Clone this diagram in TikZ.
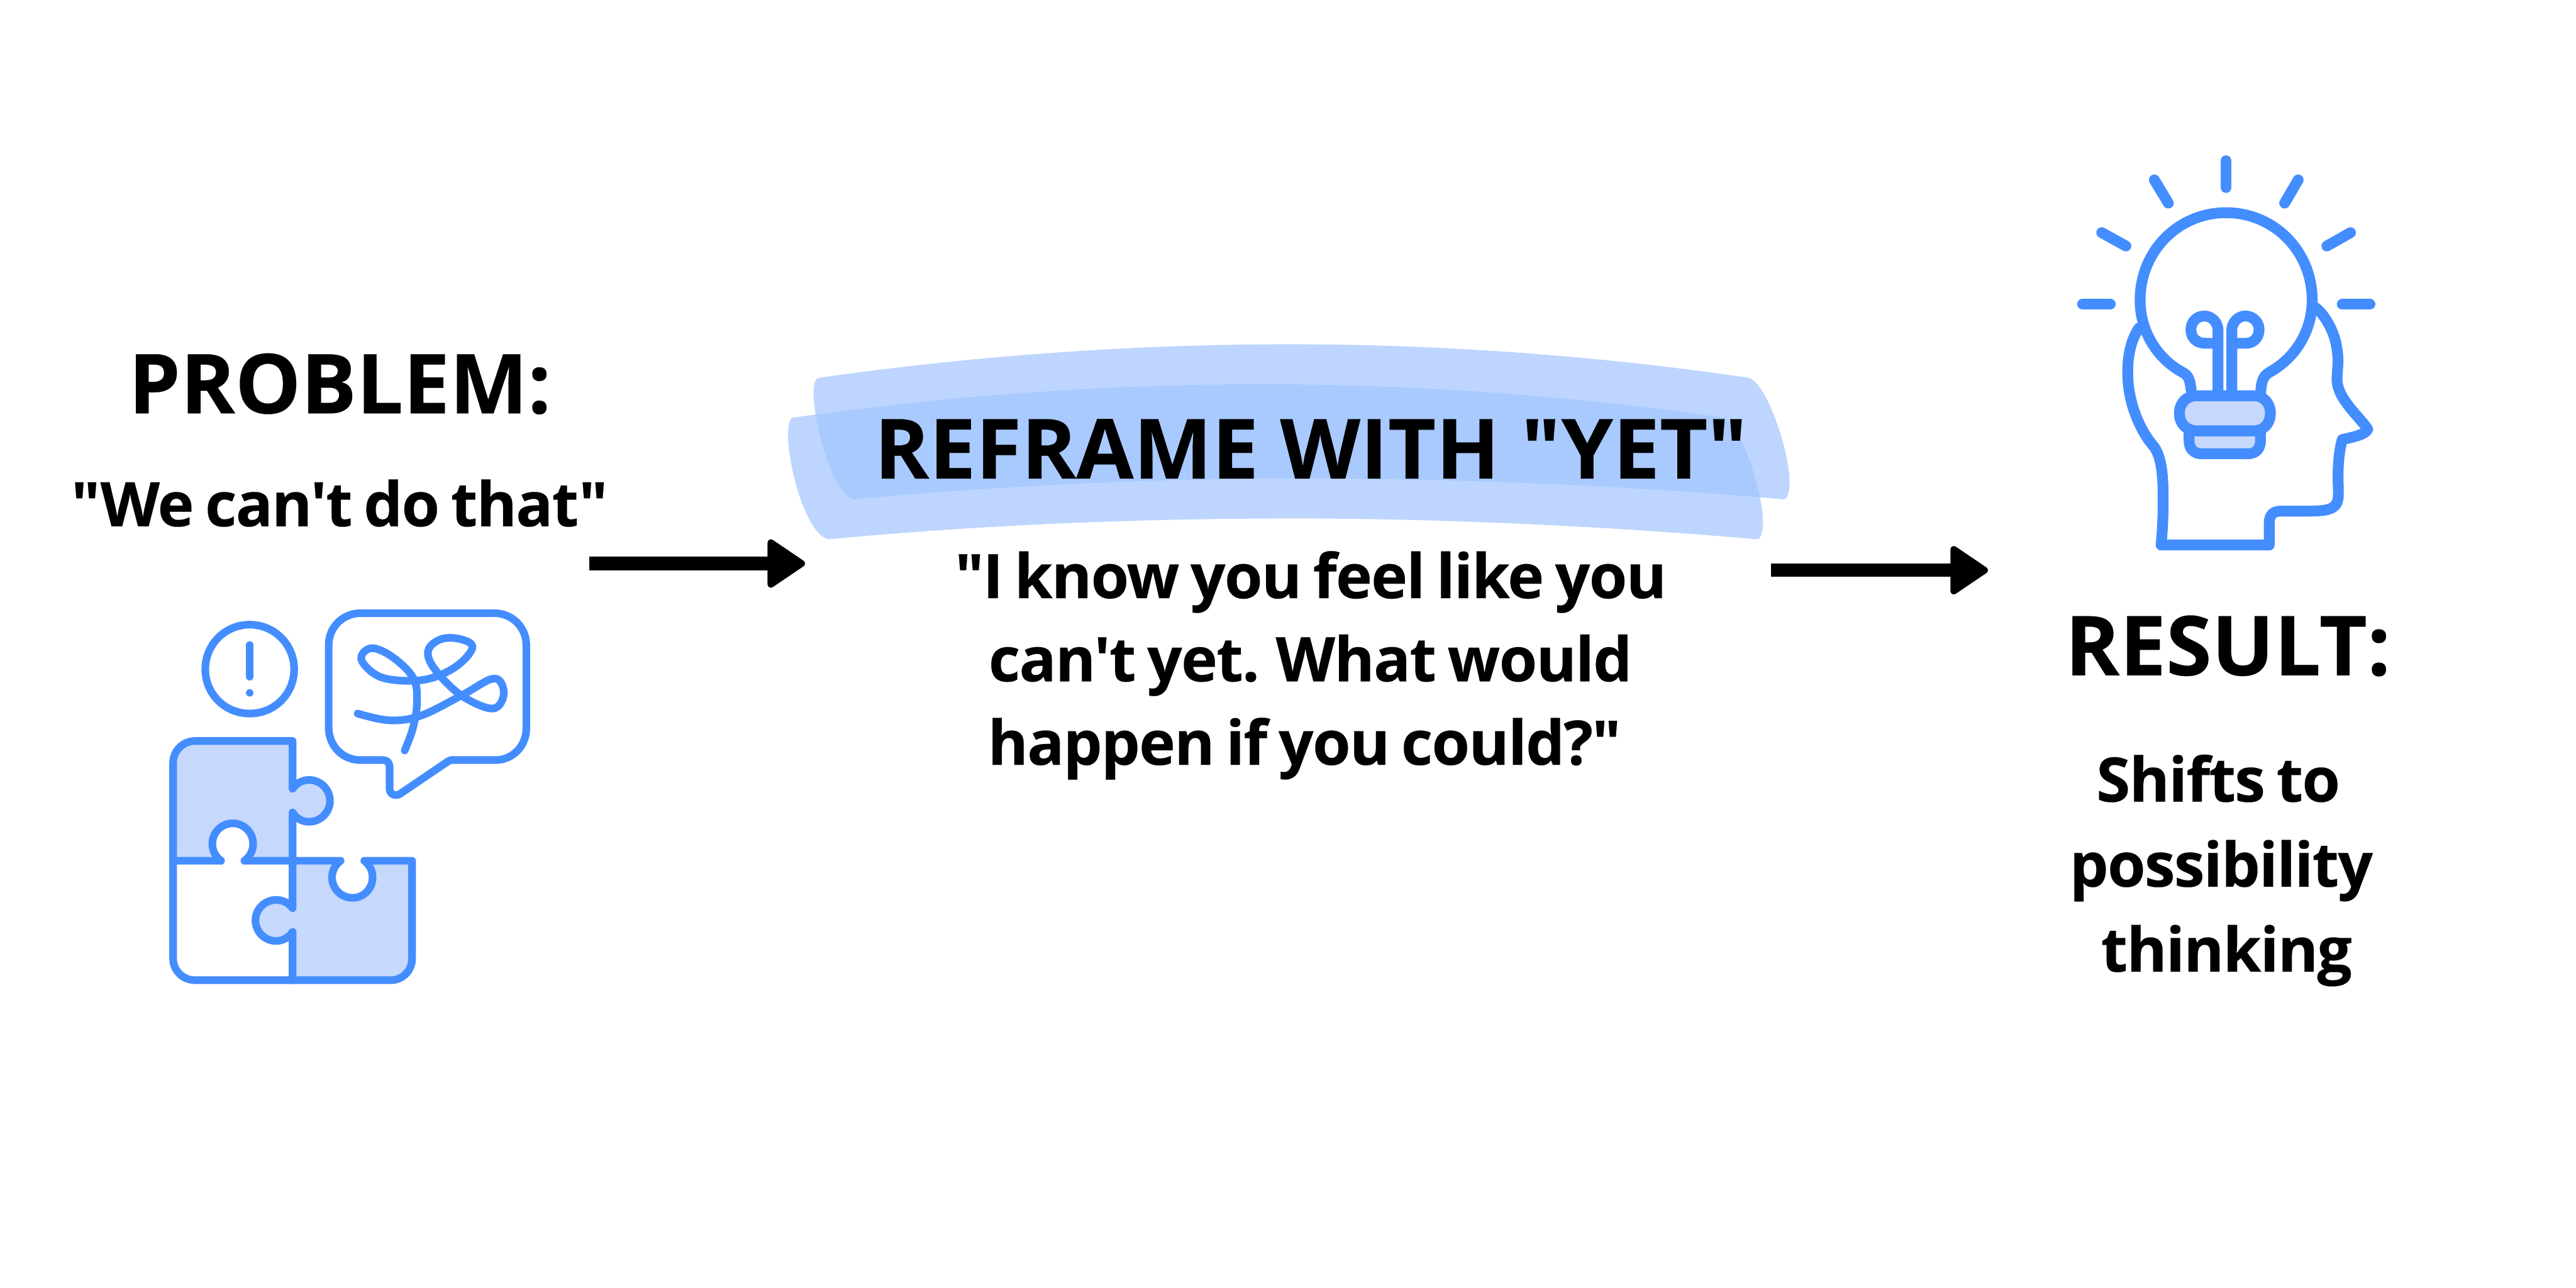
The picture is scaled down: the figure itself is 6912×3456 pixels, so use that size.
\documentclass[tikz,border=0pt]{standalone}
\usepackage{fontspec}
\usetikzlibrary{arrows.meta}
\newfontfamily\ofont[FakeBold=.2]{Open Sans}
\newfontfamily\obody[LetterSpace=-1.7,WordSpace=.75,FakeBold=.2]{Open Sans}
\definecolor{iconblue}{RGB}{68,141,255}
\definecolor{iconfill}{RGB}{198,216,251}
\definecolor{ribbon}{RGB}{161,197,255}
\tikzset{
  ic/.style={draw=iconblue,line width=2.05pt,line cap=round,line join=round},
  ih/.style={draw=iconblue,line width=2.9pt,line cap=round,line join=round},
  rib/.style={fill=ribbon,fill opacity=.69},
  head/.style={font=\ofont\bfseries\fontsize{22.2}{26}\selectfont,anchor=base,inner sep=0pt,outer sep=0pt},
  title/.style={font=\ofont\bfseries\fontsize{22.3}{26}\selectfont,anchor=base,inner sep=0pt,outer sep=0pt},
  body/.style={font=\obody\bfseries\fontsize{16.5}{20}\selectfont,anchor=base,inner sep=0pt,outer sep=0pt},
  flow/.style={line width=3.56pt,-{Triangle[length=10.8pt,width=14.1pt,round,line width=1.8pt]}}
}
\begin{document}
\begin{tikzpicture}[x=.1pt,y=-.1pt]
\useasboundingbox[fill=white] (0,0) rectangle (6912,3456);
% ribbons
\begin{scope}[shift={(2050,880)},x=.1786pt,y=-.04464pt]
\path[rib] (82,300) .. controls (300,175) and (540,98) .. (790,98) .. controls (1030,98) and (1270,175) .. (1480,300)
  .. controls (1510,340) and (1550,850) .. (1539,990) .. controls (1538,1015) and (1535,1030) .. (1532,1030)
  .. controls (1290,945) and (1040,905) .. (800,905) .. controls (580,905) and (350,950) .. (135,1030)
  .. controls (100,1000) and (70,500) .. (75,350) .. controls (76,320) and (78,305) .. (82,300) -- cycle;
\path[rib] (42,540) .. controls (260,415) and (500,338) .. (750,338) .. controls (990,338) and (1230,415) .. (1442,540)
  .. controls (1470,580) and (1510,1090) .. (1499,1230) .. controls (1498,1255) and (1495,1270) .. (1492,1270)
  .. controls (1250,1185) and (1000,1145) .. (800,1145) .. controls (540,1145) and (310,1190) .. (97,1270)
  .. controls (60,1240) and (30,740) .. (37,590) .. controls (38,560) and (40,545) .. (42,540) -- cycle;
\end{scope}
% texts
\node[head] (problem) at (912,1109) {PROBLEM:};
\node[body] (cant) at (911,1412) {"We can't do that"};
\node[title] (reframe) at (3517,1284) {REFRAME WITH "YET"};
\node[body] (r1) at (3517,1605) {"I know you feel like you};
\node[body] (r2) at (3516,1828) {can't yet. What would};
\node[body] (r3) at (3500,2052) {happen if you could?"};
\node[head] (result) at (5978,1812) {RESULT:};
\node[body] (s1) at (5952,2151) {Shifts to};
\node[body] (s2) at (5960,2379) {possibility};
\node[body] (s3) at (5974,2607) {thinking};
% arrows
\coordinate (a1s) at (1582,1512);
\coordinate (a1e) at (2160,1512);
\coordinate (a2s) at (4752,1530);
\coordinate (a2e) at (5334,1530);
\draw[flow] (a1s) -- (a1e);
\draw[flow] (a2s) -- (a2e);
% puzzle icon
\begin{scope}[shift={(400,1580)},x=.07015pt,y=-.07015pt]
\path[fill=iconfill] (92,1040) -- (92,665) .. controls (92,620) and (130,582) .. (175,582) -- (549,582) -- (549,765)
 .. controls (563,745) and (585,731) .. (612,731) .. controls (656,731) and (692,767) .. (692,811) .. controls (692,855) and (656,891) .. (612,891) .. controls (585,891) and (563,878) .. (549,855)
 -- (549,1040) -- (365,1040) .. controls (385,1025) and (398,1003) .. (398,975) .. controls (398,932) and (363,897) .. (320,897) .. controls (277,897) and (242,932) .. (242,975) .. controls (242,1003) and (255,1025) .. (275,1040) -- cycle;
\path[fill=iconfill] (549,1040) -- (733,1040) .. controls (713,1055) and (700,1077) .. (700,1104) .. controls (700,1147) and (735,1182) .. (778,1182) .. controls (821,1182) and (855,1147) .. (855,1104) .. controls (855,1077) and (843,1055) .. (823,1040) -- (1006,1040) -- (1006,1415) .. controls (1006,1460) and (970,1497) .. (925,1497) -- (549,1497) -- (549,1312)
 .. controls (535,1333) and (512,1347) .. (486,1347) .. controls (443,1347) and (407,1312) .. (407,1268) .. controls (407,1225) and (443,1190) .. (486,1190) .. controls (512,1190) and (535,1202) .. (549,1222) -- cycle;
\draw[ic] (275,1040) -- (92,1040) -- (92,665) .. controls (92,620) and (130,582) .. (175,582) -- (549,582) -- (549,765)
 .. controls (563,745) and (585,731) .. (612,731) .. controls (656,731) and (692,767) .. (692,811) .. controls (692,855) and (656,891) .. (612,891) .. controls (585,891) and (563,878) .. (549,855)
 -- (549,1222) .. controls (535,1202) and (512,1190) .. (486,1190) .. controls (443,1190) and (407,1225) .. (407,1268) .. controls (407,1312) and (443,1347) .. (486,1347) .. controls (512,1347) and (535,1333) .. (549,1312) -- (549,1497);
\draw[ic] (365,1040) .. controls (385,1025) and (398,1003) .. (398,975) .. controls (398,932) and (363,897) .. (320,897) .. controls (277,897) and (242,932) .. (242,975) .. controls (242,1003) and (255,1025) .. (275,1040);
\draw[ic] (92,1040) -- (92,1415) .. controls (92,1460) and (130,1497) .. (175,1497) -- (925,1497) .. controls (970,1497) and (1006,1460) .. (1006,1415) -- (1006,1040) -- (823,1040) .. controls (843,1055) and (855,1077) .. (855,1104) .. controls (855,1147) and (821,1182) .. (778,1182) .. controls (735,1182) and (700,1147) .. (700,1104) .. controls (700,1077) and (713,1055) .. (733,1040) -- (365,1040);
% warning
\draw[ic] (385,137) .. controls (480,137) and (555,214) .. (555,307) .. controls (555,402) and (480,477) .. (385,477) .. controls (290,477) and (215,402) .. (215,307) .. controls (215,214) and (290,137) .. (385,137) -- cycle;
\draw[ic] (385,215) -- (385,336);
\fill[iconblue] (385,398) circle[radius=1pt];
% bubble
\draw[ic] (810,93) -- (1320,93) .. controls (1390,93) and (1443,148) .. (1443,215) -- (1443,535) .. controls (1443,602) and (1390,655) .. (1325,655) -- (1155,655) .. controls (1150,655) and (1148,657) .. (1145,659) -- (962,783) .. controls (945,795) and (920,788) .. (920,765) -- (920,680) .. controls (920,665) and (910,655) .. (895,655) -- (808,655) .. controls (740,655) and (687,600) .. (687,530) -- (687,215) .. controls (687,148) and (740,93) .. (810,93) -- cycle;
\draw[ic] plot[smooth,tension=.62] coordinates {(798,477) (920,503) (1040,485) (1195,408) (1320,343) (1357,400) (1315,458) (1195,408) (1095,310) (1067,240) (1110,195) (1180,190) (1237,220) (1190,285) (1100,335) (1000,352) (880,335) (812,270) (850,227) (930,260) (1010,340) (1025,430) (1010,530) (978,618)};
\end{scope}
% head icon
\begin{scope}[shift={(5500,380)},x=.0606pt,y=-.07334pt]
\foreach \a/\b/\c/\d in {781/70/781/168,463/140/525/225,1100/140/1040/225,230/333/337/382,1332/333/1227/382,145/595/268/595,1295/595/1418/595}
  \draw[ih] (\a,\b) -- (\c,\d);
% base
\draw[ih,fill=iconfill] (617,1058) -- (617,1095) .. controls (617,1125) and (640,1142) .. (670,1142) -- (880,1142) .. controls (910,1142) and (933,1125) .. (933,1095) -- (933,1058) -- cycle;
\draw[ih,fill=iconfill] (650,930) -- (905,930) .. controls (945,930) and (977,955) .. (977,994) .. controls (977,1033) and (945,1058) .. (905,1058) -- (650,1058) .. controls (606,1058) and (574,1033) .. (574,994) .. controls (574,955) and (606,930) .. (650,930) -- cycle;
% bulb
\draw[ih] (628,925) .. controls (622,870) and (615,855) .. (585,843) .. controls (470,790) and (400,690) .. (400,580) .. controls (400,400) and (570,260) .. (781,260) .. controls (992,260) and (1162,400) .. (1162,580) .. controls (1162,690) and (1090,790) .. (975,843) .. controls (945,858) and (938,870) .. (933,925);
% filaments
\draw[ih] (745,930) -- (745,690) .. controls (745,660) and (715,638) .. (685,638) .. controls (650,638) and (625,660) .. (625,688) .. controls (625,718) and (650,738) .. (690,738) -- (745,738);
\draw[ih] (806,930) -- (806,690) .. controls (806,660) and (836,638) .. (866,638) .. controls (900,638) and (927,660) .. (927,688) .. controls (927,718) and (900,738) .. (870,738) -- (806,738);
% head
\draw[ih] (395,682) .. controls (360,725) and (345,780) .. (345,845) .. controls (345,950) and (395,1050) .. (455,1110) .. controls (500,1150) and (502,1240) .. (502,1320) .. controls (502,1380) and (498,1430) .. (493,1476) -- (972,1476) -- (972,1395) .. controls (972,1365) and (990,1352) .. (1025,1352) -- (1140,1352) .. controls (1240,1352) and (1278,1345) .. (1278,1290) .. controls (1278,1240) and (1270,1170) .. (1295,1090) .. controls (1340,1082) and (1400,1072) .. (1408,1052) .. controls (1370,1005) and (1272,940) .. (1272,870) .. controls (1272,830) and (1285,800) .. (1265,730) .. controls (1250,680) and (1210,625) .. (1172,605);
\end{scope}
\end{tikzpicture}
\end{document}
